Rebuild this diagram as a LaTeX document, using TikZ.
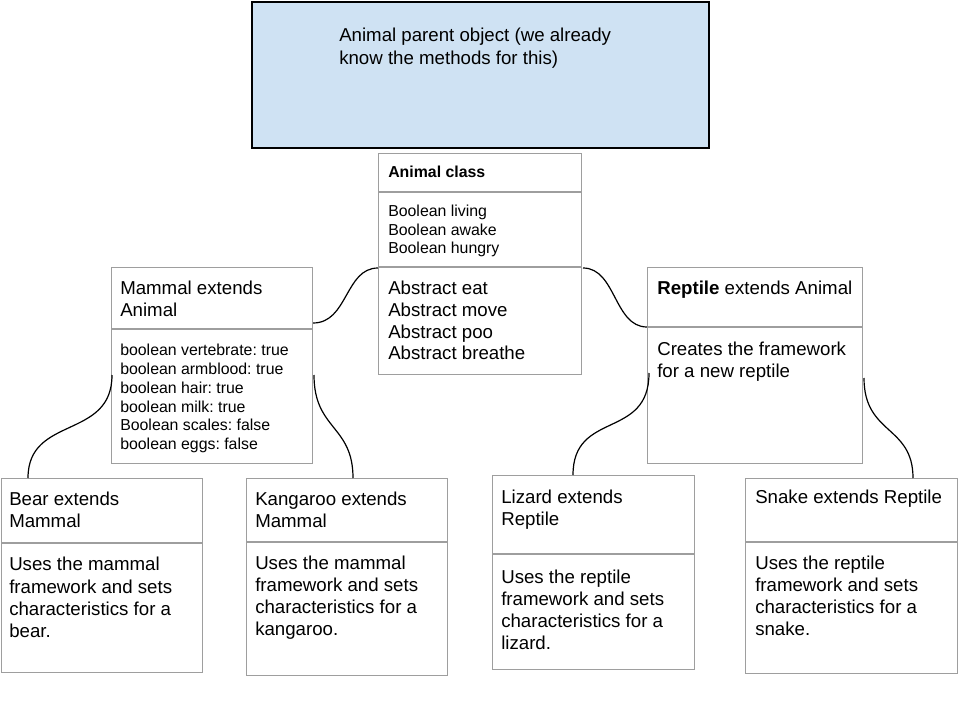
\documentclass[tikz,border=0pt]{standalone}
\usepackage{fontspec}
\setmainfont{Liberation Sans}
\frenchspacing
\definecolor{boxgray}{HTML}{9E9E9E}
\definecolor{topfill}{HTML}{CFE2F3}
\tikzset{
  umlbox/.style={draw=boxgray, line width=0.8pt, rectangle, inner sep=0pt, anchor=north west},
  parentbox/.style={draw=black, line width=1.2pt, fill=topfill, rectangle, inner sep=0pt, anchor=north west},
  divider/.style={draw=boxgray, line width=0.8pt},
  bigtxt/.style={anchor=north west, inner sep=0pt, align=left, font=\fontsize{14}{16.4}\selectfont},
  smalltxt/.style={anchor=north west, inner sep=0pt, align=left, font=\fontsize{11.9}{14.1}\selectfont},
  link/.style={draw=black, line width=0.9pt}
}
\begin{document}
\begin{tikzpicture}[x=0.75pt, y=-0.75pt]
\useasboundingbox (0,0) rectangle (960,720);
\fill[white] (0,0) rectangle (960,720);

% parent object
\node[parentbox, minimum width=342.75pt, minimum height=109.5pt] (parent) at (251,1) {};
\node[bigtxt, font=\fontsize{14}{17.25}\selectfont] (parenttxt) at (339,28) {Animal parent object (we already\\know the methods for this)};

% Animal class
\node[umlbox, minimum width=152.25pt, minimum height=165.75pt] (animal) at (378,153) {};
\draw[divider] (animal.west |- 0,192) -- (animal.east |- 0,192);
\draw[divider] (animal.west |- 0,267) -- (animal.east |- 0,267);
\node[smalltxt, font=\fontsize{11.9}{14.1}\selectfont\bfseries] (animaltitle) at (388,166) {Animal class};
\node[smalltxt, font=\fontsize{11.9}{13.9}\selectfont] (animalattr) at (388,205) {Boolean living\\Boolean awake\\Boolean hungry};
\node[bigtxt, font=\fontsize{14}{16.3}\selectfont] (animalmeth) at (388,281) {Abstract eat\\Abstract move\\Abstract poo\\Abstract breathe};

% Mammal
\node[umlbox, minimum width=150.75pt, minimum height=147pt] (mammal) at (111,267) {};
\draw[divider] (mammal.west |- 0,329) -- (mammal.east |- 0,329);
\node[bigtxt] (mammaltitle) at (120,281) {Mammal extends\\Animal};
\node[smalltxt] (mammalattr) at (120,344) {boolean vertebrate: true\\boolean armblood: true\\boolean hair: true\\boolean milk: true\\Boolean scales: false\\boolean eggs: false};

% Reptile
\node[umlbox, minimum width=161.25pt, minimum height=147pt] (reptile) at (647,267) {};
\draw[divider] (reptile.west |- 0,327) -- (reptile.east |- 0,327);
\node[bigtxt] (reptiletitle) at (657,281) {\textbf{Reptile} extends Animal};
\node[bigtxt] (reptilebody) at (657,342) {Creates the framework\\for a new reptile};

% Bear
\node[umlbox, minimum width=150.75pt, minimum height=145.5pt] (bear) at (1,478) {};
\draw[divider] (bear.west |- 0,543) -- (bear.east |- 0,543);
\node[bigtxt] (beartitle) at (9,492) {Bear extends\\Mammal};
\node[bigtxt, font=\fontsize{14}{16.7}\selectfont] (bearbody) at (9,557) {Uses the mammal\\framework and sets\\characteristics for a\\bear.};

% Kangaroo
\node[umlbox, minimum width=150.75pt, minimum height=147.75pt] (kangaroo) at (246,478) {};
\draw[divider] (kangaroo.west |- 0,542) -- (kangaroo.east |- 0,542);
\node[bigtxt] (kangarootitle) at (255,492) {Kangaroo extends\\Mammal};
\node[bigtxt, font=\fontsize{14}{16.5}\selectfont] (kangaroobody) at (255,556) {Uses the mammal\\framework and sets\\characteristics for a\\kangaroo.};

% Lizard
\node[umlbox, minimum width=151.5pt, minimum height=145.5pt] (lizard) at (492,475) {};
\draw[divider] (lizard.west |- 0,554) -- (lizard.east |- 0,554);
\node[bigtxt] (lizardtitle) at (501,490) {Lizard extends\\Reptile};
\node[bigtxt, font=\fontsize{14}{16.5}\selectfont] (lizardbody) at (501,570) {Uses the reptile\\framework and sets\\characteristics for a\\lizard.};

% Snake
\node[umlbox, minimum width=159pt, minimum height=146.25pt] (snake) at (745,478) {};
\draw[divider] (snake.west |- 0,542) -- (snake.east |- 0,542);
\node[bigtxt] (snaketitle) at (755,490) {Snake extends Reptile};
\node[bigtxt, font=\fontsize{14}{16.5}\selectfont] (snakebody) at (755,556) {Uses the reptile\\framework and sets\\characteristics for a\\snake.};

% connector end points
\coordinate (mA) at (mammal.east |- 0,323);
\coordinate (aL) at (animal.west |- 0,268);
\coordinate (aR) at (583,268);
\coordinate (rL) at (reptile.west |- 0,327);
\coordinate (mBL) at (112,375);
\coordinate (bT) at (28,478);
\coordinate (mKR) at (314,375);
\coordinate (kT) at (353,478);
\coordinate (rLL) at (649,373);
\coordinate (lT) at (573,475);
\coordinate (rSR) at (864,378);
\coordinate (sT) at (913,478);

\draw[link] (mA) .. controls (348,323) and (345,268) .. (aL);
\draw[link] (aR) .. controls (616,268) and (614,327) .. (rL);
\draw[link] (mBL) .. controls (112,440) and (28,415) .. (bT);
\draw[link] (mKR) .. controls (314,430) and (353,425) .. (kT);
\draw[link] (rLL) .. controls (649,440) and (573,410) .. (lT);
\draw[link] (rSR) .. controls (864,435) and (913,425) .. (sT);
\end{tikzpicture}
\end{document}
